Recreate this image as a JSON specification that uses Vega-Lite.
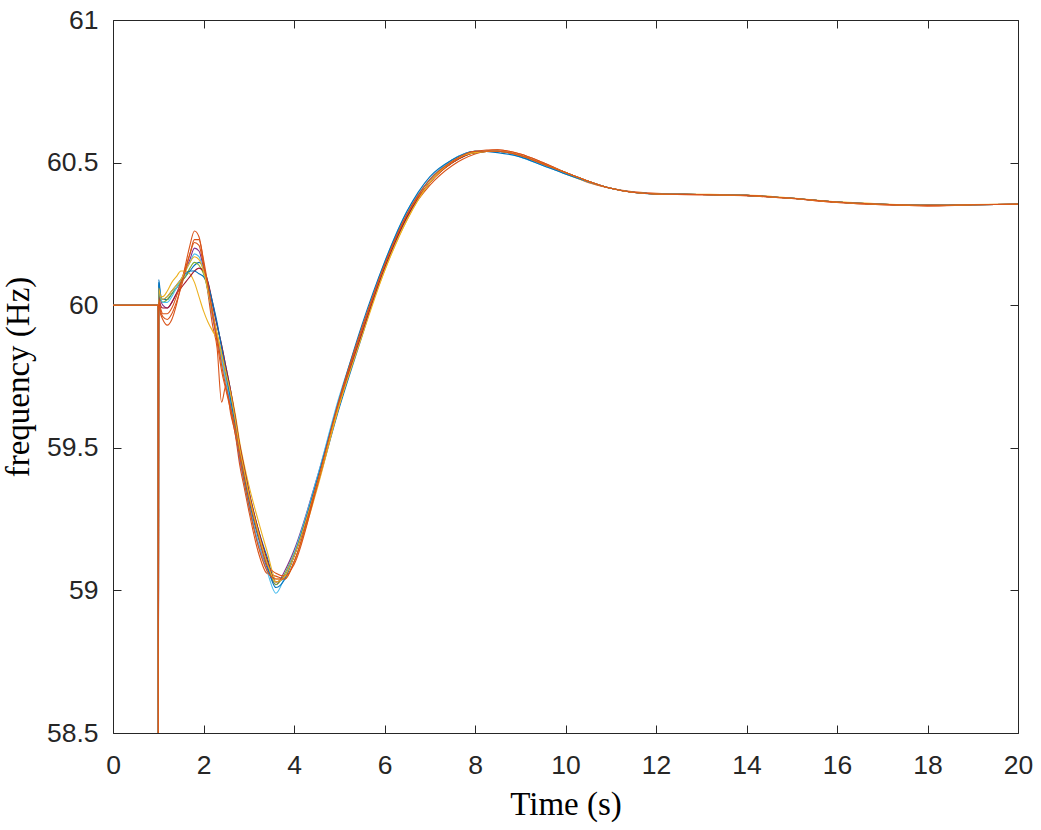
{
"$schema": "https://vega.github.io/schema/vega-lite/v6.json",
"width": 905, "height": 713,
"autosize": "none",
"padding": {"left": 113, "top": 20, "right": 23, "bottom": 97},
"background": "white",
"config": {
 "view": {"stroke": "#262626", "strokeWidth": 1},
 "axis": {"domain": false, "grid": false, "ticks": true, "tickColor": "#262626", "tickSize": -8, "tickWidth": 1, "labelFlush": false,
  "labelFont": "Liberation Sans", "labelFontSize": 26.5, "labelColor": "#262626",
  "titleFont": "Liberation Serif", "titleFontSize": 33, "titleFontWeight": "normal", "titleColor": "#000000"}
},
"datasets": {
 "curves": [
{"s":"s01","t":0,"f":60},{"s":"s01","t":1,"f":60},{"s":"s01","t":1.002,"f":58.2},{"s":"s01","t":1.01,"f":60.09},{"s":"s01","t":1.05,"f":60.04},{"s":"s01","t":1.1,"f":60.02},{"s":"s01","t":1.2,"f":60.02},{"s":"s01","t":1.3,"f":60.04},{"s":"s01","t":1.4,"f":60.06},{"s":"s01","t":1.5,"f":60.08},{"s":"s01","t":1.6,"f":60.1},{"s":"s01","t":1.7,"f":60.12},{"s":"s01","t":1.8,"f":60.14},{"s":"s01","t":1.9,"f":60.15},{"s":"s01","t":2.0,"f":60.13},{"s":"s01","t":2.1,"f":60.08},{"s":"s01","t":2.2,"f":60.0},{"s":"s01","t":2.3,"f":59.93},{"s":"s01","t":2.4,"f":59.86},{"s":"s01","t":2.5,"f":59.78},{"s":"s01","t":2.6,"f":59.7},{"s":"s01","t":2.7,"f":59.6},{"s":"s01","t":2.8,"f":59.5},{"s":"s01","t":2.9,"f":59.43},{"s":"s01","t":3.0,"f":59.35},{"s":"s01","t":3.2,"f":59.22},{"s":"s01","t":3.4,"f":59.12},{"s":"s01","t":3.6,"f":59.03},{"s":"s01","t":3.8,"f":59.05},{"s":"s01","t":4.0,"f":59.12},{"s":"s01","t":4.5,"f":59.36},{"s":"s01","t":5,"f":59.64},{"s":"s01","t":5.5,"f":59.89},{"s":"s01","t":6,"f":60.14},{"s":"s01","t":6.5,"f":60.32},{"s":"s01","t":7,"f":60.44},{"s":"s01","t":7.5,"f":60.51},{"s":"s01","t":8,"f":60.54},{"s":"s01","t":8.5,"f":60.54},{"s":"s01","t":9,"f":60.525},{"s":"s01","t":9.5,"f":60.495},{"s":"s01","t":10,"f":60.465},{"s":"s01","t":10.5,"f":60.435},{"s":"s01","t":11,"f":60.41},{"s":"s01","t":12,"f":60.39},{"s":"s01","t":13,"f":60.388},{"s":"s01","t":14,"f":60.385},{"s":"s01","t":15,"f":60.375},{"s":"s01","t":16,"f":60.362},{"s":"s01","t":17,"f":60.354},{"s":"s01","t":18,"f":60.35},{"s":"s01","t":19,"f":60.352},{"s":"s01","t":20,"f":60.354},
{"s":"s02","t":0,"f":60},{"s":"s02","t":1,"f":60},{"s":"s02","t":1.002,"f":58.4},{"s":"s02","t":1.01,"f":60.0},{"s":"s02","t":1.05,"f":59.97},{"s":"s02","t":1.1,"f":59.95},{"s":"s02","t":1.2,"f":59.93},{"s":"s02","t":1.3,"f":59.95},{"s":"s02","t":1.4,"f":60.0},{"s":"s02","t":1.5,"f":60.07},{"s":"s02","t":1.6,"f":60.14},{"s":"s02","t":1.7,"f":60.21},{"s":"s02","t":1.8,"f":60.26},{"s":"s02","t":1.9,"f":60.24},{"s":"s02","t":2.0,"f":60.15},{"s":"s02","t":2.1,"f":60.04},{"s":"s02","t":2.2,"f":59.93},{"s":"s02","t":2.3,"f":59.85},{"s":"s02","t":2.4,"f":59.66},{"s":"s02","t":2.5,"f":59.72},{"s":"s02","t":2.6,"f":59.62},{"s":"s02","t":2.7,"f":59.55},{"s":"s02","t":2.8,"f":59.44},{"s":"s02","t":2.9,"f":59.36},{"s":"s02","t":3.0,"f":59.28},{"s":"s02","t":3.2,"f":59.14},{"s":"s02","t":3.4,"f":59.06},{"s":"s02","t":3.6,"f":59.05},{"s":"s02","t":3.8,"f":59.04},{"s":"s02","t":4.0,"f":59.1},{"s":"s02","t":4.5,"f":59.36},{"s":"s02","t":5,"f":59.65},{"s":"s02","t":5.5,"f":59.91},{"s":"s02","t":6,"f":60.14},{"s":"s02","t":6.5,"f":60.31},{"s":"s02","t":7,"f":60.42},{"s":"s02","t":7.5,"f":60.49},{"s":"s02","t":8,"f":60.53},{"s":"s02","t":8.5,"f":60.545},{"s":"s02","t":9,"f":60.53},{"s":"s02","t":9.5,"f":60.5},{"s":"s02","t":10,"f":60.465},{"s":"s02","t":10.5,"f":60.43},{"s":"s02","t":11,"f":60.41},{"s":"s02","t":12,"f":60.392},{"s":"s02","t":13,"f":60.388},{"s":"s02","t":14,"f":60.384},{"s":"s02","t":15,"f":60.374},{"s":"s02","t":16,"f":60.36},{"s":"s02","t":17,"f":60.352},{"s":"s02","t":18,"f":60.348},{"s":"s02","t":19,"f":60.352},{"s":"s02","t":20,"f":60.354},
{"s":"s03","t":0,"f":60},{"s":"s03","t":1,"f":60},{"s":"s03","t":1.002,"f":58.6},{"s":"s03","t":1.01,"f":60.05},{"s":"s03","t":1.05,"f":60.03},{"s":"s03","t":1.1,"f":60.03},{"s":"s03","t":1.2,"f":60.05},{"s":"s03","t":1.3,"f":60.08},{"s":"s03","t":1.4,"f":60.1},{"s":"s03","t":1.5,"f":60.12},{"s":"s03","t":1.6,"f":60.12},{"s":"s03","t":1.7,"f":60.11},{"s":"s03","t":1.8,"f":60.08},{"s":"s03","t":1.9,"f":60.03},{"s":"s03","t":2.0,"f":59.98},{"s":"s03","t":2.1,"f":59.94},{"s":"s03","t":2.2,"f":59.91},{"s":"s03","t":2.3,"f":59.88},{"s":"s03","t":2.4,"f":59.82},{"s":"s03","t":2.5,"f":59.76},{"s":"s03","t":2.6,"f":59.7},{"s":"s03","t":2.7,"f":59.62},{"s":"s03","t":2.8,"f":59.52},{"s":"s03","t":2.9,"f":59.44},{"s":"s03","t":3.0,"f":59.37},{"s":"s03","t":3.2,"f":59.25},{"s":"s03","t":3.4,"f":59.14},{"s":"s03","t":3.6,"f":59.04},{"s":"s03","t":3.8,"f":59.04},{"s":"s03","t":4.0,"f":59.1},{"s":"s03","t":4.5,"f":59.35},{"s":"s03","t":5,"f":59.65},{"s":"s03","t":5.5,"f":59.9},{"s":"s03","t":6,"f":60.12},{"s":"s03","t":6.5,"f":60.3},{"s":"s03","t":7,"f":60.43},{"s":"s03","t":7.5,"f":60.5},{"s":"s03","t":8,"f":60.535},{"s":"s03","t":8.5,"f":60.54},{"s":"s03","t":9,"f":60.525},{"s":"s03","t":9.5,"f":60.495},{"s":"s03","t":10,"f":60.46},{"s":"s03","t":10.5,"f":60.432},{"s":"s03","t":11,"f":60.41},{"s":"s03","t":12,"f":60.39},{"s":"s03","t":13,"f":60.389},{"s":"s03","t":14,"f":60.386},{"s":"s03","t":15,"f":60.376},{"s":"s03","t":16,"f":60.363},{"s":"s03","t":17,"f":60.355},{"s":"s03","t":18,"f":60.351},{"s":"s03","t":19,"f":60.353},{"s":"s03","t":20,"f":60.355},
{"s":"s04","t":0,"f":60},{"s":"s04","t":1,"f":60},{"s":"s04","t":1.002,"f":58.3},{"s":"s04","t":1.01,"f":60.06},{"s":"s04","t":1.05,"f":60.02},{"s":"s04","t":1.1,"f":60.0},{"s":"s04","t":1.2,"f":59.99},{"s":"s04","t":1.3,"f":60.01},{"s":"s04","t":1.4,"f":60.04},{"s":"s04","t":1.5,"f":60.08},{"s":"s04","t":1.6,"f":60.12},{"s":"s04","t":1.7,"f":60.16},{"s":"s04","t":1.8,"f":60.2},{"s":"s04","t":1.9,"f":60.19},{"s":"s04","t":2.0,"f":60.13},{"s":"s04","t":2.1,"f":60.05},{"s":"s04","t":2.2,"f":59.96},{"s":"s04","t":2.3,"f":59.88},{"s":"s04","t":2.4,"f":59.81},{"s":"s04","t":2.5,"f":59.73},{"s":"s04","t":2.6,"f":59.65},{"s":"s04","t":2.7,"f":59.56},{"s":"s04","t":2.8,"f":59.46},{"s":"s04","t":2.9,"f":59.38},{"s":"s04","t":3.0,"f":59.3},{"s":"s04","t":3.2,"f":59.17},{"s":"s04","t":3.4,"f":59.08},{"s":"s04","t":3.6,"f":59.02},{"s":"s04","t":3.8,"f":59.07},{"s":"s04","t":4.0,"f":59.14},{"s":"s04","t":4.5,"f":59.39},{"s":"s04","t":5,"f":59.67},{"s":"s04","t":5.5,"f":59.91},{"s":"s04","t":6,"f":60.13},{"s":"s04","t":6.5,"f":60.31},{"s":"s04","t":7,"f":60.43},{"s":"s04","t":7.5,"f":60.5},{"s":"s04","t":8,"f":60.535},{"s":"s04","t":8.5,"f":60.54},{"s":"s04","t":9,"f":60.525},{"s":"s04","t":9.5,"f":60.495},{"s":"s04","t":10,"f":60.465},{"s":"s04","t":10.5,"f":60.435},{"s":"s04","t":11,"f":60.41},{"s":"s04","t":12,"f":60.39},{"s":"s04","t":13,"f":60.388},{"s":"s04","t":14,"f":60.385},{"s":"s04","t":15,"f":60.375},{"s":"s04","t":16,"f":60.362},{"s":"s04","t":17,"f":60.354},{"s":"s04","t":18,"f":60.35},{"s":"s04","t":19,"f":60.352},{"s":"s04","t":20,"f":60.354},
{"s":"s05","t":0,"f":60},{"s":"s05","t":1,"f":60},{"s":"s05","t":1.002,"f":58.5},{"s":"s05","t":1.01,"f":60.04},{"s":"s05","t":1.05,"f":60.02},{"s":"s05","t":1.1,"f":60.01},{"s":"s05","t":1.2,"f":60.02},{"s":"s05","t":1.3,"f":60.04},{"s":"s05","t":1.4,"f":60.06},{"s":"s05","t":1.5,"f":60.08},{"s":"s05","t":1.6,"f":60.1},{"s":"s05","t":1.7,"f":60.13},{"s":"s05","t":1.8,"f":60.15},{"s":"s05","t":1.9,"f":60.14},{"s":"s05","t":2.0,"f":60.11},{"s":"s05","t":2.1,"f":60.05},{"s":"s05","t":2.2,"f":59.97},{"s":"s05","t":2.3,"f":59.9},{"s":"s05","t":2.4,"f":59.83},{"s":"s05","t":2.5,"f":59.75},{"s":"s05","t":2.6,"f":59.67},{"s":"s05","t":2.7,"f":59.58},{"s":"s05","t":2.8,"f":59.48},{"s":"s05","t":2.9,"f":59.4},{"s":"s05","t":3.0,"f":59.33},{"s":"s05","t":3.2,"f":59.2},{"s":"s05","t":3.4,"f":59.1},{"s":"s05","t":3.6,"f":59.02},{"s":"s05","t":3.8,"f":59.06},{"s":"s05","t":4.0,"f":59.13},{"s":"s05","t":4.5,"f":59.38},{"s":"s05","t":5,"f":59.66},{"s":"s05","t":5.5,"f":59.9},{"s":"s05","t":6,"f":60.13},{"s":"s05","t":6.5,"f":60.31},{"s":"s05","t":7,"f":60.43},{"s":"s05","t":7.5,"f":60.5},{"s":"s05","t":8,"f":60.535},{"s":"s05","t":8.5,"f":60.54},{"s":"s05","t":9,"f":60.525},{"s":"s05","t":9.5,"f":60.495},{"s":"s05","t":10,"f":60.465},{"s":"s05","t":10.5,"f":60.435},{"s":"s05","t":11,"f":60.41},{"s":"s05","t":12,"f":60.39},{"s":"s05","t":13,"f":60.388},{"s":"s05","t":14,"f":60.385},{"s":"s05","t":15,"f":60.375},{"s":"s05","t":16,"f":60.362},{"s":"s05","t":17,"f":60.354},{"s":"s05","t":18,"f":60.35},{"s":"s05","t":19,"f":60.352},{"s":"s05","t":20,"f":60.354},
{"s":"s06","t":0,"f":60},{"s":"s06","t":1,"f":60},{"s":"s06","t":1.002,"f":58.2},{"s":"s06","t":1.01,"f":60.07},{"s":"s06","t":1.05,"f":60.03},{"s":"s06","t":1.1,"f":60.01},{"s":"s06","t":1.2,"f":60.01},{"s":"s06","t":1.3,"f":60.03},{"s":"s06","t":1.4,"f":60.06},{"s":"s06","t":1.5,"f":60.09},{"s":"s06","t":1.6,"f":60.12},{"s":"s06","t":1.7,"f":60.15},{"s":"s06","t":1.8,"f":60.18},{"s":"s06","t":1.9,"f":60.17},{"s":"s06","t":2.0,"f":60.12},{"s":"s06","t":2.1,"f":60.05},{"s":"s06","t":2.2,"f":59.97},{"s":"s06","t":2.3,"f":59.89},{"s":"s06","t":2.4,"f":59.81},{"s":"s06","t":2.5,"f":59.73},{"s":"s06","t":2.6,"f":59.66},{"s":"s06","t":2.7,"f":59.56},{"s":"s06","t":2.8,"f":59.47},{"s":"s06","t":2.9,"f":59.38},{"s":"s06","t":3.0,"f":59.3},{"s":"s06","t":3.2,"f":59.17},{"s":"s06","t":3.4,"f":59.07},{"s":"s06","t":3.6,"f":58.99},{"s":"s06","t":3.8,"f":59.05},{"s":"s06","t":4.0,"f":59.13},{"s":"s06","t":4.5,"f":59.39},{"s":"s06","t":5,"f":59.68},{"s":"s06","t":5.5,"f":59.92},{"s":"s06","t":6,"f":60.15},{"s":"s06","t":6.5,"f":60.33},{"s":"s06","t":7,"f":60.44},{"s":"s06","t":7.5,"f":60.51},{"s":"s06","t":8,"f":60.54},{"s":"s06","t":8.5,"f":60.54},{"s":"s06","t":9,"f":60.52},{"s":"s06","t":9.5,"f":60.49},{"s":"s06","t":10,"f":60.46},{"s":"s06","t":10.5,"f":60.433},{"s":"s06","t":11,"f":60.41},{"s":"s06","t":12,"f":60.39},{"s":"s06","t":13,"f":60.388},{"s":"s06","t":14,"f":60.385},{"s":"s06","t":15,"f":60.375},{"s":"s06","t":16,"f":60.362},{"s":"s06","t":17,"f":60.354},{"s":"s06","t":18,"f":60.35},{"s":"s06","t":19,"f":60.352},{"s":"s06","t":20,"f":60.354},
{"s":"s07","t":0,"f":60},{"s":"s07","t":1,"f":60},{"s":"s07","t":1.002,"f":58.3},{"s":"s07","t":1.01,"f":60.03},{"s":"s07","t":1.05,"f":60.0},{"s":"s07","t":1.1,"f":59.99},{"s":"s07","t":1.2,"f":59.99},{"s":"s07","t":1.3,"f":60.01},{"s":"s07","t":1.4,"f":60.04},{"s":"s07","t":1.5,"f":60.06},{"s":"s07","t":1.6,"f":60.08},{"s":"s07","t":1.7,"f":60.1},{"s":"s07","t":1.8,"f":60.12},{"s":"s07","t":1.9,"f":60.13},{"s":"s07","t":2.0,"f":60.12},{"s":"s07","t":2.1,"f":60.08},{"s":"s07","t":2.2,"f":60.01},{"s":"s07","t":2.3,"f":59.93},{"s":"s07","t":2.4,"f":59.86},{"s":"s07","t":2.5,"f":59.78},{"s":"s07","t":2.6,"f":59.7},{"s":"s07","t":2.7,"f":59.61},{"s":"s07","t":2.8,"f":59.51},{"s":"s07","t":2.9,"f":59.43},{"s":"s07","t":3.0,"f":59.35},{"s":"s07","t":3.2,"f":59.22},{"s":"s07","t":3.4,"f":59.11},{"s":"s07","t":3.6,"f":59.03},{"s":"s07","t":3.8,"f":59.05},{"s":"s07","t":4.0,"f":59.12},{"s":"s07","t":4.5,"f":59.37},{"s":"s07","t":5,"f":59.66},{"s":"s07","t":5.5,"f":59.9},{"s":"s07","t":6,"f":60.13},{"s":"s07","t":6.5,"f":60.31},{"s":"s07","t":7,"f":60.43},{"s":"s07","t":7.5,"f":60.5},{"s":"s07","t":8,"f":60.535},{"s":"s07","t":8.5,"f":60.54},{"s":"s07","t":9,"f":60.525},{"s":"s07","t":9.5,"f":60.495},{"s":"s07","t":10,"f":60.465},{"s":"s07","t":10.5,"f":60.435},{"s":"s07","t":11,"f":60.41},{"s":"s07","t":12,"f":60.39},{"s":"s07","t":13,"f":60.388},{"s":"s07","t":14,"f":60.385},{"s":"s07","t":15,"f":60.375},{"s":"s07","t":16,"f":60.362},{"s":"s07","t":17,"f":60.354},{"s":"s07","t":18,"f":60.35},{"s":"s07","t":19,"f":60.352},{"s":"s07","t":20,"f":60.354},
{"s":"s08","t":0,"f":60},{"s":"s08","t":1,"f":60},{"s":"s08","t":1.002,"f":58.1},{"s":"s08","t":1.01,"f":60.08},{"s":"s08","t":1.05,"f":60.03},{"s":"s08","t":1.1,"f":60.02},{"s":"s08","t":1.2,"f":60.03},{"s":"s08","t":1.3,"f":60.05},{"s":"s08","t":1.4,"f":60.07},{"s":"s08","t":1.5,"f":60.09},{"s":"s08","t":1.6,"f":60.11},{"s":"s08","t":1.7,"f":60.12},{"s":"s08","t":1.8,"f":60.12},{"s":"s08","t":1.9,"f":60.11},{"s":"s08","t":2.0,"f":60.1},{"s":"s08","t":2.1,"f":60.07},{"s":"s08","t":2.2,"f":60.01},{"s":"s08","t":2.3,"f":59.94},{"s":"s08","t":2.4,"f":59.85},{"s":"s08","t":2.5,"f":59.76},{"s":"s08","t":2.6,"f":59.67},{"s":"s08","t":2.7,"f":59.58},{"s":"s08","t":2.8,"f":59.49},{"s":"s08","t":2.9,"f":59.4},{"s":"s08","t":3.0,"f":59.32},{"s":"s08","t":3.2,"f":59.19},{"s":"s08","t":3.4,"f":59.09},{"s":"s08","t":3.6,"f":59.01},{"s":"s08","t":3.8,"f":59.04},{"s":"s08","t":4.0,"f":59.12},{"s":"s08","t":4.5,"f":59.38},{"s":"s08","t":5,"f":59.67},{"s":"s08","t":5.5,"f":59.93},{"s":"s08","t":6,"f":60.15},{"s":"s08","t":6.5,"f":60.33},{"s":"s08","t":7,"f":60.45},{"s":"s08","t":7.5,"f":60.51},{"s":"s08","t":8,"f":60.54},{"s":"s08","t":8.5,"f":60.535},{"s":"s08","t":9,"f":60.52},{"s":"s08","t":9.5,"f":60.49},{"s":"s08","t":10,"f":60.46},{"s":"s08","t":10.5,"f":60.433},{"s":"s08","t":11,"f":60.41},{"s":"s08","t":12,"f":60.39},{"s":"s08","t":13,"f":60.388},{"s":"s08","t":14,"f":60.385},{"s":"s08","t":15,"f":60.375},{"s":"s08","t":16,"f":60.362},{"s":"s08","t":17,"f":60.354},{"s":"s08","t":18,"f":60.35},{"s":"s08","t":19,"f":60.352},{"s":"s08","t":20,"f":60.354},
{"s":"s09","t":0,"f":60},{"s":"s09","t":1,"f":60},{"s":"s09","t":1.002,"f":58.3},{"s":"s09","t":1.01,"f":60.02},{"s":"s09","t":1.05,"f":59.99},{"s":"s09","t":1.1,"f":59.97},{"s":"s09","t":1.2,"f":59.97},{"s":"s09","t":1.3,"f":59.99},{"s":"s09","t":1.4,"f":60.03},{"s":"s09","t":1.5,"f":60.08},{"s":"s09","t":1.6,"f":60.13},{"s":"s09","t":1.7,"f":60.18},{"s":"s09","t":1.8,"f":60.22},{"s":"s09","t":1.9,"f":60.21},{"s":"s09","t":2.0,"f":60.14},{"s":"s09","t":2.1,"f":60.06},{"s":"s09","t":2.2,"f":59.98},{"s":"s09","t":2.3,"f":59.89},{"s":"s09","t":2.4,"f":59.79},{"s":"s09","t":2.5,"f":59.71},{"s":"s09","t":2.6,"f":59.64},{"s":"s09","t":2.7,"f":59.57},{"s":"s09","t":2.8,"f":59.49},{"s":"s09","t":2.9,"f":59.41},{"s":"s09","t":3.0,"f":59.33},{"s":"s09","t":3.2,"f":59.2},{"s":"s09","t":3.4,"f":59.09},{"s":"s09","t":3.6,"f":59.06},{"s":"s09","t":3.8,"f":59.05},{"s":"s09","t":4.0,"f":59.09},{"s":"s09","t":4.5,"f":59.36},{"s":"s09","t":5,"f":59.66},{"s":"s09","t":5.5,"f":59.91},{"s":"s09","t":6,"f":60.14},{"s":"s09","t":6.5,"f":60.32},{"s":"s09","t":7,"f":60.43},{"s":"s09","t":7.5,"f":60.5},{"s":"s09","t":8,"f":60.54},{"s":"s09","t":8.5,"f":60.545},{"s":"s09","t":9,"f":60.53},{"s":"s09","t":9.5,"f":60.5},{"s":"s09","t":10,"f":60.465},{"s":"s09","t":10.5,"f":60.435},{"s":"s09","t":11,"f":60.41},{"s":"s09","t":12,"f":60.39},{"s":"s09","t":13,"f":60.387},{"s":"s09","t":14,"f":60.384},{"s":"s09","t":15,"f":60.374},{"s":"s09","t":16,"f":60.36},{"s":"s09","t":17,"f":60.352},{"s":"s09","t":18,"f":60.348},{"s":"s09","t":19,"f":60.352},{"s":"s09","t":20,"f":60.355},
{"s":"s10","t":0,"f":60},{"s":"s10","t":1,"f":60},{"s":"s10","t":1.002,"f":58.4},{"s":"s10","t":1.01,"f":60.06},{"s":"s10","t":1.05,"f":60.03},{"s":"s10","t":1.1,"f":60.02},{"s":"s10","t":1.2,"f":60.03},{"s":"s10","t":1.3,"f":60.05},{"s":"s10","t":1.4,"f":60.07},{"s":"s10","t":1.5,"f":60.09},{"s":"s10","t":1.6,"f":60.12},{"s":"s10","t":1.7,"f":60.15},{"s":"s10","t":1.8,"f":60.17},{"s":"s10","t":1.9,"f":60.16},{"s":"s10","t":2.0,"f":60.12},{"s":"s10","t":2.1,"f":60.05},{"s":"s10","t":2.2,"f":59.97},{"s":"s10","t":2.3,"f":59.9},{"s":"s10","t":2.4,"f":59.83},{"s":"s10","t":2.5,"f":59.76},{"s":"s10","t":2.6,"f":59.69},{"s":"s10","t":2.7,"f":59.6},{"s":"s10","t":2.8,"f":59.5},{"s":"s10","t":2.9,"f":59.42},{"s":"s10","t":3.0,"f":59.34},{"s":"s10","t":3.2,"f":59.21},{"s":"s10","t":3.4,"f":59.1},{"s":"s10","t":3.6,"f":59.03},{"s":"s10","t":3.8,"f":59.05},{"s":"s10","t":4.0,"f":59.12},{"s":"s10","t":4.5,"f":59.37},{"s":"s10","t":5,"f":59.65},{"s":"s10","t":5.5,"f":59.89},{"s":"s10","t":6,"f":60.12},{"s":"s10","t":6.5,"f":60.3},{"s":"s10","t":7,"f":60.43},{"s":"s10","t":7.5,"f":60.505},{"s":"s10","t":8,"f":60.535},{"s":"s10","t":8.5,"f":60.54},{"s":"s10","t":9,"f":60.525},{"s":"s10","t":9.5,"f":60.495},{"s":"s10","t":10,"f":60.465},{"s":"s10","t":10.5,"f":60.435},{"s":"s10","t":11,"f":60.41},{"s":"s10","t":12,"f":60.39},{"s":"s10","t":13,"f":60.388},{"s":"s10","t":14,"f":60.385},{"s":"s10","t":15,"f":60.375},{"s":"s10","t":16,"f":60.362},{"s":"s10","t":17,"f":60.354},{"s":"s10","t":18,"f":60.35},{"s":"s10","t":19,"f":60.352},{"s":"s10","t":20,"f":60.354},
{"s":"s11","t":0,"f":60},{"s":"s11","t":1,"f":60},{"s":"s11","t":1.002,"f":58.5},{"s":"s11","t":1.01,"f":60.01},{"s":"s11","t":1.05,"f":59.98},{"s":"s11","t":1.1,"f":59.96},{"s":"s11","t":1.2,"f":59.95},{"s":"s11","t":1.3,"f":59.97},{"s":"s11","t":1.4,"f":60.01},{"s":"s11","t":1.5,"f":60.06},{"s":"s11","t":1.6,"f":60.12},{"s":"s11","t":1.7,"f":60.18},{"s":"s11","t":1.8,"f":60.23},{"s":"s11","t":1.9,"f":60.23},{"s":"s11","t":2.0,"f":60.16},{"s":"s11","t":2.1,"f":60.07},{"s":"s11","t":2.2,"f":59.97},{"s":"s11","t":2.3,"f":59.87},{"s":"s11","t":2.4,"f":59.77},{"s":"s11","t":2.5,"f":59.7},{"s":"s11","t":2.6,"f":59.63},{"s":"s11","t":2.7,"f":59.55},{"s":"s11","t":2.8,"f":59.47},{"s":"s11","t":2.9,"f":59.38},{"s":"s11","t":3.0,"f":59.3},{"s":"s11","t":3.2,"f":59.16},{"s":"s11","t":3.4,"f":59.07},{"s":"s11","t":3.6,"f":59.04},{"s":"s11","t":3.8,"f":59.04},{"s":"s11","t":4.0,"f":59.1},{"s":"s11","t":4.5,"f":59.37},{"s":"s11","t":5,"f":59.67},{"s":"s11","t":5.5,"f":59.92},{"s":"s11","t":6,"f":60.14},{"s":"s11","t":6.5,"f":60.32},{"s":"s11","t":7,"f":60.44},{"s":"s11","t":7.5,"f":60.505},{"s":"s11","t":8,"f":60.54},{"s":"s11","t":8.5,"f":60.54},{"s":"s11","t":9,"f":60.525},{"s":"s11","t":9.5,"f":60.495},{"s":"s11","t":10,"f":60.465},{"s":"s11","t":10.5,"f":60.435},{"s":"s11","t":11,"f":60.41},{"s":"s11","t":12,"f":60.39},{"s":"s11","t":13,"f":60.388},{"s":"s11","t":14,"f":60.385},{"s":"s11","t":15,"f":60.375},{"s":"s11","t":16,"f":60.362},{"s":"s11","t":17,"f":60.354},{"s":"s11","t":18,"f":60.35},{"s":"s11","t":19,"f":60.352},{"s":"s11","t":20,"f":60.354}
 ]
},
"data": {"name": "curves"},
"layer": [
 {
  "mark": {"type": "line", "interpolate": "monotone", "strokeWidth": 1.1, "clip": true},
  "encoding": {
   "x": {"field": "t", "type": "quantitative", "scale": {"domain": [0, 20], "nice": false, "zero": false},
    "axis": {"orient": "bottom", "values": [0,2,4,6,8,10,12,14,16,18,20], "labelPadding": 27, "title": "Time (s)", "titlePadding": 10}},
   "y": {"field": "f", "type": "quantitative", "scale": {"domain": [58.5, 61], "nice": false, "zero": false},
    "axis": {"orient": "left", "values": [58.5,59,59.5,60,60.5,61], "format": "~g", "labelPadding": 23, "title": "frequency (Hz)", "titlePadding": 11}},
   "color": {"field": "s", "type": "nominal", "legend": null,
    "scale": {"domain": ["s01","s02","s03","s04","s05","s06","s07","s08","s09","s10","s11"],
     "range": ["#0072BD","#D95319","#EDB120","#7E2F8E","#77AC30","#4DBEEE","#A2142F","#0072BD","#D95319","#EDB120","#D95319"]}}
  }
 },
 {
  "mark": {"type": "point", "opacity": 0},
  "encoding": {
   "x": {"field": "t", "type": "quantitative", "axis": {"orient": "top", "values": [0,2,4,6,8,10,12,14,16,18,20], "labels": false, "title": null}},
   "y": {"field": "f", "type": "quantitative", "axis": {"orient": "right", "values": [58.5,59,59.5,60,60.5,61], "labels": false, "title": null}}
  }
 }
],
"resolve": {"axis": {"x": "independent", "y": "independent"}}
}
